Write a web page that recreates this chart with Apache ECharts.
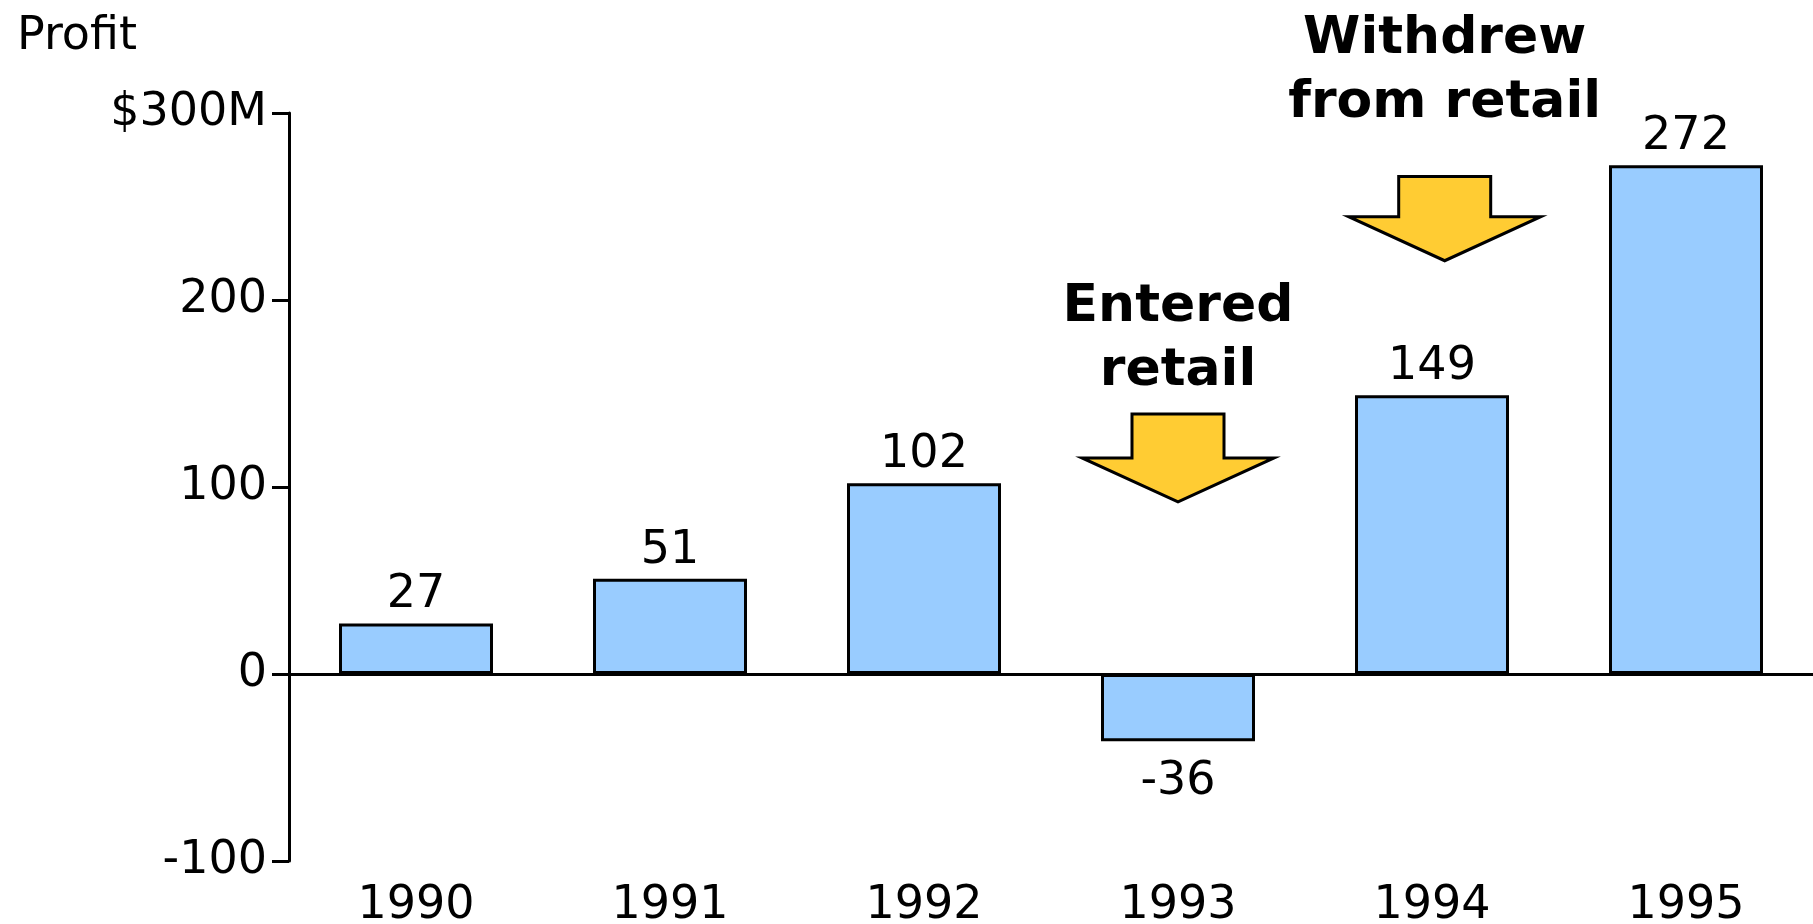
<!DOCTYPE html>
<html>
<head>
<meta charset="utf-8">
<script src="https://cdn.jsdelivr.net/npm/echarts@6/dist/echarts.min.js"></script>
<style>
  html, body { margin: 0; padding: 0; background: #fff; }
  #main { width: 1813px; height: 924px; }
</style>
</head>
<body>
<div id="main"></div>
<script>
// data
var years = ['1990', '1991', '1992', '1993', '1994', '1995'];
var profits = [27, 51, 102, -36, 149, 272];
var yTicks = [-100, 0, 100, 200, 300];

// annotations: category, text centre, arrow top, arrow tip (in $M)
var annoYears = ['1993', '1994'];
var annoText = ['Entered\nretail', 'Withdrew\nfrom retail'];
var annoTextAt = [179, 322];
var annoTop = [139, 266];
var annoTip = [92, 221];
var annoShift = [0, 0.05]; // share of a category band

var FONT = '"DejaVu Sans", Verdana, sans-serif';

//柱子数据，负值标签放下面
var barData = [];
for (var i = 0; i < profits.length; i++) {
	var v = profits[i];
	barData.push({
		value: v,
		label: v < 0 ? { position: 'bottom', distance: 18 } : { position: 'top', distance: 5 }
	});
}

var annoData = [];
for (var j = 0; j < annoYears.length; j++) {
	annoData.push([annoYears[j], annoTextAt[j], annoTop[j], annoTip[j], j]);
}

//画箭头和说明文字
function renderAnno(params, api) {
	var idx = api.value(4);
	var top = api.coord([api.value(0), api.value(2)]);
	var tip = api.coord([api.value(0), api.value(3)]);
	var txt = api.coord([api.value(0), api.value(1)]);
	var band = api.size([1, 0])[0];
	var cx = top[0] + annoShift[idx] * band;
	var shaft = 46, head = 96, headH = 44;
	var shoulder = tip[1] - headH;
	return {
		type: 'group',
		children: [
			{
				type: 'polygon',
				shape: {
					points: [
						[cx - shaft, top[1]], [cx + shaft, top[1]], [cx + shaft, shoulder],
						[cx + head, shoulder], [cx, tip[1]], [cx - head, shoulder],
						[cx - shaft, shoulder]
					]
				},
				style: { fill: '#ffcc33', stroke: '#000', lineWidth: 3, lineJoin: 'miter' }
			},
			{
				type: 'text',
				style: {
					text: annoText[idx],
					x: cx,
					y: txt[1],
					align: 'center',
					verticalAlign: 'middle',
					font: 'bold 52px ' + FONT,
					lineHeight: 64,
					fill: '#000'
				}
			}
		]
	};
}

var myChart = echarts.init(document.getElementById('main'));
var option = {
	animation: false,
	backgroundColor: '#fff',
	title: {
		text: 'Profit',
		left: 12,
		top: 9,
		textStyle: { fontSize: 46, fontWeight: 'normal', fontFamily: FONT, color: '#000' }
	},
	grid: { left: 289, right: 0, top: 113, bottom: 63, containLabel: false, outerBoundsMode: 'none' },
	xAxis: {
		type: 'category',
		data: years,
		position: 'bottom',
		axisLine: { show: false, onZero: false },
		axisTick: { show: false },
		axisLabel: { fontSize: 46, fontFamily: FONT, color: '#000', margin: 22 }
	},
	yAxis: {
		type: 'value',
		min: yTicks[0],
		max: yTicks[yTicks.length - 1],
		interval: 100,
		splitLine: { show: false },
		axisLine: { show: true, lineStyle: { color: '#000', width: 3 } },
		axisTick: { show: true, length: 17, lineStyle: { color: '#000', width: 3 } },
		axisLabel: {
			fontSize: 46,
			fontFamily: FONT,
			color: '#000',
			margin: 22,
			formatter: function (v) { return v === 300 ? '$300M' : String(v); }
		}
	},
	series: [
		{
			name: 'Profit',
			type: 'bar',
			data: barData,
			barWidth: 154,
			itemStyle: { color: '#99ccff', borderColor: '#000', borderWidth: 3 },
			label: { show: true, fontSize: 46, fontFamily: FONT, color: '#000' },
			markLine: {
				silent: true,
				symbol: 'none',
				label: { show: false },
				lineStyle: { color: '#000', width: 3, type: 'solid' },
				data: [{ yAxis: 0 }]
			},
			z: 3
		},
		{
			name: 'notes',
			type: 'custom',
			data: annoData,
			renderItem: renderAnno,
			clip: false,
			z: 4
		}
	]
};
myChart.setOption(option);
</script>
</body>
</html>
